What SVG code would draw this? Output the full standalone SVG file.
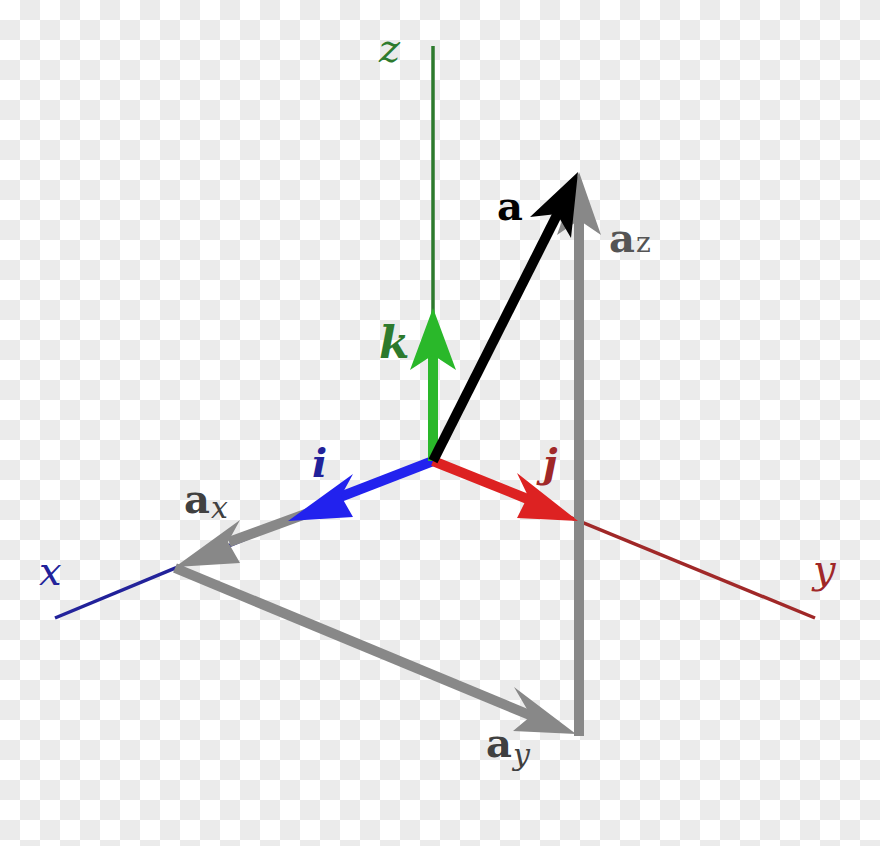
<svg xmlns="http://www.w3.org/2000/svg" width="880" height="846" viewBox="0 0 880 846">
<defs>
<pattern id="chk" x="0" y="0" width="40" height="40" patternUnits="userSpaceOnUse">
<rect x="0" y="0" width="40" height="40" fill="#ffffff"/>
<rect x="20" y="0" width="20" height="20" fill="#ebebeb"/>
<rect x="0" y="20" width="20" height="20" fill="#ebebeb"/>
</pattern>
</defs>
<style>
.axis{stroke-width:3.5;fill:none}
.vec{stroke-width:10;fill:none;stroke-linecap:butt}
.lbl{font-family:"DejaVu Serif","Liberation Serif",serif}
.it{font-style:italic}
.bd{font-weight:bold}
</style>
<rect width="880" height="846" fill="url(#chk)"/>
<g id="connectors">
<line id="axis-z" class="axis" x1="433" y1="46" x2="433" y2="461" stroke="#2d7a2d"/>
<line id="axis-x" class="axis" x1="55" y1="618" x2="433" y2="461" stroke="#22229a"/>
<line id="axis-y" class="axis" x1="433" y1="461" x2="815" y2="618" stroke="#a02828"/>
<g id="vec-ay">
<line class="vec" x1="175" y1="568" x2="532" y2="716" stroke="#888888"/>
<polygon points="576,734 514,687 531,716 513,731" fill="#888888"/>
</g>
<g id="vec-az">
<line class="vec" x1="579" y1="736" x2="579" y2="218" stroke="#888888"/>
<polygon points="579,172 601,235 579,220 557,235" fill="#888888"/>
</g>
<g id="vec-ax">
<line class="vec" x1="330" y1="505" x2="229" y2="542" stroke="#888888"/>
<polygon points="175,567 240,520 228,542 240,563" fill="#888888"/>
</g>
<g id="vec-i">
<line class="vec" x1="433" y1="461" x2="340" y2="497" stroke="#2222ee"/>
<polygon points="288,521 353,474 341,496 353,517" fill="#2222ee"/>
</g>
<g id="vec-j">
<line class="vec" x1="433" y1="461" x2="530" y2="500" stroke="#dd2222"/>
<polygon points="578,521 517,473 528,496 517,518" fill="#dd2222"/>
</g>
<g id="vec-k">
<line class="vec" x1="433" y1="461" x2="433" y2="352" stroke="#2ab82a"/>
<polygon points="433,308 456,370 433,355 410,370" fill="#2ab82a"/>
</g>
<g id="vec-a">
<line class="vec" x1="433" y1="461" x2="559" y2="211" stroke="#000000"/>
<polygon points="578,172 571,238 557,214 530,217" fill="#000000"/>
</g>
</g>
<g id="label-z"><text class="lbl it" x="379" y="62" font-size="40" fill="#2d7a2d">z</text></g>
<g id="label-x"><text class="lbl it" x="39" y="585" font-size="40" fill="#22229a">x</text></g>
<g id="label-y"><text class="lbl it" x="813" y="583" font-size="40" fill="#a02828">y</text></g>
<g id="label-k"><text class="lbl it bd" x="379" y="358" font-size="44" fill="#2d7a2d">k</text></g>
<g id="label-i"><text class="lbl it bd" x="312" y="477" font-size="40" fill="#22229a">i</text></g>
<g id="label-j"><text class="lbl it bd" x="543" y="477" font-size="40" fill="#a02828">j</text></g>
<g id="label-a"><text class="lbl bd" x="497" y="220" font-size="40" fill="#000000">a</text></g>
<g id="label-az"><text class="lbl" y="252" font-size="40" fill="#555555"><tspan class="bd" x="609">a</tspan><tspan x="636" font-size="28">z</tspan></text></g>
<g id="label-ax"><text class="lbl" y="513" font-size="40" fill="#404040"><tspan class="bd" x="184">a</tspan><tspan class="it" x="211" y="518" font-size="30">x</tspan></text></g>
<g id="label-ay"><text class="lbl" y="757" font-size="40" fill="#404040"><tspan class="bd" x="486">a</tspan><tspan class="it" x="513" y="765" font-size="30">y</tspan></text></g>
</svg>
